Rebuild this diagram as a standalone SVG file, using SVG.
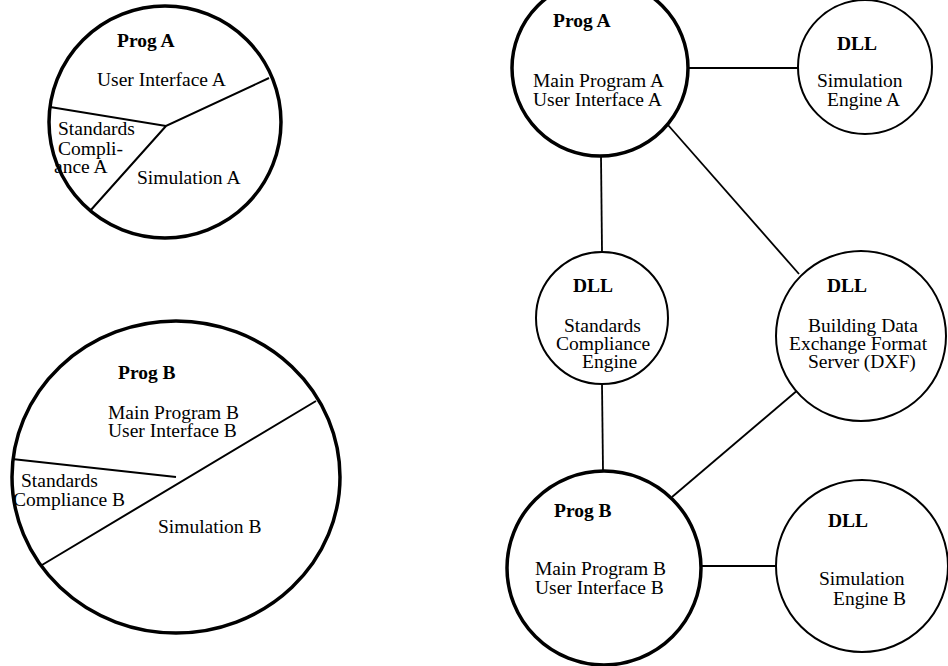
<svg xmlns="http://www.w3.org/2000/svg" width="948" height="666" viewBox="0 0 948 666">
<style>
.bg{fill:#fff}
.prog{fill:#fff;stroke:#000;stroke-width:3.5}
.dll{fill:#fff;stroke:#000;stroke-width:2}
.part{fill:none;stroke:#000;stroke-width:2}
.conn{fill:none;stroke:#000;stroke-width:1.8}
text{font-family:"Liberation Serif","Times New Roman",serif;font-size:19.5px;fill:#000}
.b{font-weight:bold}
</style>
<rect class="bg" x="0" y="0" width="948" height="666"/>

<g id="left-prog-a">
<circle class="prog" cx="165" cy="122" r="116"/>
<path class="part" d="M269 78 L166 126 L50 107 M166 126 L90 211"/>
<text class="b" x="117" y="47">Prog A</text>
<text x="97" y="86">User Interface A</text>
<text x="58" y="135">Standards</text>
<text x="58" y="155">Compli-</text>
<text x="54" y="173">ance A</text>
<text x="137" y="184">Simulation A</text>
</g>

<g id="left-prog-b">
<ellipse class="prog" cx="176" cy="477" rx="164" ry="156"/>
<path class="part" d="M316 401 L42 565 M12 459 L176 477"/>
<text class="b" x="118" y="379">Prog B</text>
<text x="108" y="419">Main Program B</text>
<text x="108" y="437">User Interface B</text>
<text x="21" y="487">Standards</text>
<text x="13" y="506">Compliance B</text>
<text x="158" y="533">Simulation B</text>
</g>

<g id="connectors">
<line class="conn" x1="688" y1="68" x2="798" y2="68"/>
<line class="conn" x1="601" y1="156" x2="602" y2="252"/>
<line class="conn" x1="668" y1="125" x2="799" y2="274"/>
<line class="conn" x1="602" y1="384" x2="603" y2="471"/>
<line class="conn" x1="799" y1="389" x2="672" y2="497"/>
<line class="conn" x1="701" y1="566" x2="776" y2="566"/>
</g>

<g id="prog-a">
<circle class="prog" cx="600" cy="68" r="88"/>
<text class="b" x="553" y="27">Prog A</text>
<text x="533" y="87">Main Program A</text>
<text x="533" y="106">User Interface A</text>
</g>

<g id="dll-sim-a">
<circle class="dll" cx="865" cy="67" r="67"/>
<text class="b" x="837" y="50">DLL</text>
<text x="817" y="87">Simulation</text>
<text x="827" y="106">Engine A</text>
</g>

<g id="dll-standards">
<circle class="dll" cx="602" cy="318" r="66"/>
<text class="b" x="573" y="292">DLL</text>
<text x="564" y="332">Standards</text>
<text x="556" y="350">Compliance</text>
<text x="582" y="368">Engine</text>
</g>

<g id="dll-dxf">
<circle class="dll" cx="861" cy="336" r="85"/>
<text class="b" x="827" y="292">DLL</text>
<text x="808" y="332">Building Data</text>
<text x="789" y="350">Exchange Format</text>
<text x="808" y="368">Server (DXF)</text>
</g>

<g id="prog-b">
<circle class="prog" cx="604" cy="568" r="97"/>
<text class="b" x="554" y="517">Prog B</text>
<text x="535" y="575">Main Program B</text>
<text x="535" y="594">User Interface B</text>
</g>

<g id="dll-sim-b">
<circle class="dll" cx="862" cy="566" r="86"/>
<text class="b" x="828" y="527">DLL</text>
<text x="819" y="585">Simulation</text>
<text x="833" y="605">Engine B</text>
</g>
</svg>
